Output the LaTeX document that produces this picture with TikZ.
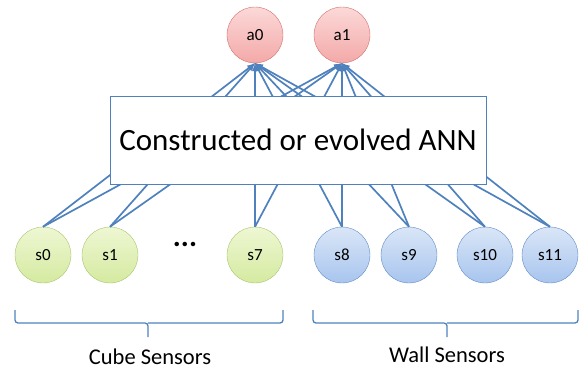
\documentclass[tikz,border=0pt]{standalone}
\usepackage{fontspec}
\setmainfont{Carlito}
\usetikzlibrary{shapes,arrows}
\definecolor{linkblue}{HTML}{4F81BD}
\definecolor{outborder}{HTML}{D3716F}
\definecolor{outtop}{HTML}{FBD9D8}
\definecolor{outbottom}{HTML}{F3A9A8}
\definecolor{cubeborder}{HTML}{A9C56F}
\definecolor{cubetop}{HTML}{EEF7D3}
\definecolor{cubebottom}{HTML}{D5EAA0}
\definecolor{wallborder}{HTML}{5F8DC8}
\definecolor{walltop}{HTML}{DAE6F7}
\definecolor{wallbottom}{HTML}{A8C5EE}
\tikzstyle{outnode} = [draw=outborder, circle, top color=outtop, bottom color=outbottom,
    minimum size=56pt, inner sep=0pt, font=\fontsize{17}{20}\selectfont]
\tikzstyle{cube} = [draw=cubeborder, circle, top color=cubetop, bottom color=cubebottom,
    minimum size=56pt, inner sep=0pt, font=\fontsize{17}{20}\selectfont]
\tikzstyle{wall} = [draw=wallborder, circle, top color=walltop, bottom color=wallbottom,
    minimum size=56pt, inner sep=0pt, font=\fontsize{17}{20}\selectfont]
\tikzstyle{ann} = [draw=linkblue, fill=white, rectangle, line width=0.9pt,
    minimum width=376pt, minimum height=88pt, font=\fontsize{31}{36}\selectfont]
\tikzstyle{link} = [draw=linkblue, line width=1.7pt, ->]
\tikzstyle{brace} = [draw=linkblue, line width=1.3pt, rounded corners=3pt]
\tikzstyle{grouplabel} = [font=\fontsize{22.5}{26}\selectfont]

\begin{document}
\begin{tikzpicture}[x=1pt, y=-1pt, >=latex]
      \useasboundingbox (0,0) rectangle (585,370);
      % output neurons
      \node[outnode] (a0) at (255,35) {a0};
      \node[outnode] (a1) at (342,35) {a1};

      % sensor neurons
      \node[cube] (s0) at (43,255) {s0};
      \node[cube] (s1) at (110,255) {s1};
      \node (dots) at (185,244) {\fontsize{30}{30}\selectfont\textbf{...}};
      \node[cube] (s7) at (255,255) {s7};
      \node[wall] (s8) at (342,255) {s8};
      \node[wall] (s9) at (409,255) {s9};
      \node[wall] (s10) at (485,255) {s10};
      \node[wall] (s11) at (550,255) {s11};

      % every sensor feeds every output
      \foreach \s in {s0,s1,s7,s8,s9,s10,s11}
        \foreach \a in {a0,a1}
          \draw[link] (\s.north) -- (\a.south);

      % the network box hides the middle of the links
      \node[ann] (ann) at (298,140) {Constructed or evolved ANN};

      % groups
      \draw[brace] (15,310) -- (15,323) -- (148,323) -- (148,337);
      \draw[brace] (148,323) -- (283,323) -- (283,310);
      \draw[brace] (313,310) -- (313,323) -- (447,323) -- (447,337);
      \draw[brace] (447,323) -- (578,323) -- (578,310);
      \node[grouplabel] (cubelabel) at (150,357) {Cube Sensors};
      \node[grouplabel] (walllabel) at (447,355) {Wall Sensors};
\end{tikzpicture}
\end{document}
